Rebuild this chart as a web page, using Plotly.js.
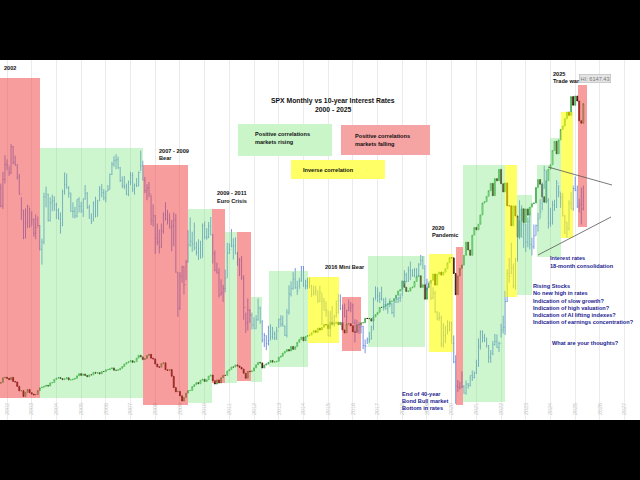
<!DOCTYPE html>
<html><head><meta charset="utf-8">
<script src="https://cdn.plot.ly/plotly-3.0.1.min.js"></script>
<style>html,body{margin:0;padding:0;background:#000}#c{width:640px;height:480px}</style>
</head><body><div id="c"></div>
<script>
// Monthly data from Aug 2001 to May 2025
const startYear = 2001, startMonth = 8;
// S&P 500 monthly closes
const spxClose = [
1134,1041,1060,1139,1148,
1130,1107,1147,1076,1067,990,912,916,815,886,936,880,
856,841,848,917,964,975,990,1008,996,1051,1058,1112,
1131,1145,1126,1107,1121,1141,1102,1104,1115,1130,1174,1212,
1181,1204,1181,1157,1192,1191,1234,1220,1229,1207,1249,1248,
1280,1281,1295,1311,1270,1270,1277,1304,1336,1378,1401,1418,
1438,1407,1421,1482,1531,1503,1455,1474,1527,1549,1481,1468,
1379,1331,1323,1386,1400,1280,1267,1283,1166,969,896,903,
826,735,798,873,919,919,987,1021,1057,1036,1096,1115,
1074,1104,1169,1187,1089,1031,1102,1049,1141,1183,1181,1258,
1286,1327,1326,1364,1345,1321,1292,1219,1131,1253,1247,1258,
1312,1366,1408,1398,1310,1362,1379,1407,1441,1412,1416,1426,
1498,1515,1569,1598,1631,1606,1686,1633,1682,1757,1806,1848,
1783,1859,1872,1884,1924,1960,1931,2003,1972,2018,2068,2059,
1995,2105,2068,2086,2107,2063,2104,1972,1920,2079,2080,2044,
1940,1932,2060,2065,2097,2099,2174,2171,2168,2126,2199,2239,
2279,2364,2363,2384,2412,2423,2470,2472,2519,2575,2648,2674,
2824,2714,2641,2648,2705,2718,2816,2902,2914,2712,2760,2507,
2704,2784,2834,2946,2752,2942,2980,2926,2977,3038,3141,3231,
3226,2954,2585,2912,3044,3100,3271,3500,3363,3270,3622,3756,
3714,3811,3973,4181,4204,4298,4395,4523,4308,4605,4567,4766,
4516,4374,4530,4132,4132,3785,4130,3955,3586,3872,4080,3840,
4077,3970,4109,4169,4180,4450,4589,4508,4288,4194,4568,4770,
4846,5096,5254,5036,5278,5460,5522,5648,5762,5705,6032,5882,
6041,5955,5612,5569,5912
];
// 10-year Treasury yield (%) monthly close / high / low
const tnxClose = [
4.84,4.59,4.23,4.75,5.05,
5.03,4.88,5.40,5.09,5.04,4.80,4.46,4.14,3.60,3.89,4.21,3.82,
3.96,3.69,3.80,3.84,3.37,3.52,4.41,4.46,3.94,4.29,4.33,4.25,
4.14,3.97,3.84,4.51,4.65,4.58,4.48,4.12,4.12,4.03,4.36,4.22,
4.13,4.37,4.48,4.20,3.98,3.92,4.28,4.02,4.33,4.56,4.49,4.39,
4.52,4.55,4.85,5.05,5.12,5.14,4.98,4.73,4.63,4.61,4.46,4.70,
4.83,4.56,4.64,4.62,4.89,5.02,4.74,4.53,4.58,4.47,3.94,4.03,
3.59,3.51,3.41,3.73,4.06,3.97,3.95,3.81,3.83,3.95,2.92,2.21,
2.84,3.02,2.67,3.12,3.46,3.53,3.48,3.40,3.31,3.39,3.20,3.84,
3.61,3.61,3.83,3.66,3.29,2.95,2.91,2.47,2.51,2.60,2.80,3.30,
3.37,3.43,3.45,3.29,3.06,3.16,2.80,2.22,1.92,2.17,2.07,1.88,
1.80,1.98,2.21,1.95,1.58,1.67,1.51,1.57,1.64,1.70,1.62,1.76,
1.99,1.89,1.85,1.67,2.13,2.49,2.60,2.78,2.61,2.55,2.75,3.03,
2.65,2.65,2.72,2.65,2.48,2.53,2.56,2.35,2.52,2.34,2.17,2.17,
1.67,2.00,1.93,2.04,2.12,2.35,2.20,2.22,2.04,2.16,2.21,2.27,
1.92,1.74,1.77,1.83,1.85,1.47,1.46,1.58,1.60,1.84,2.37,2.45,
2.45,2.39,2.39,2.28,2.20,2.30,2.29,2.12,2.33,2.38,2.41,2.41,
2.72,2.87,2.74,2.95,2.86,2.85,2.96,2.86,3.06,3.15,2.99,2.69,
2.63,2.73,2.41,2.50,2.13,2.00,2.02,1.50,1.67,1.69,1.78,1.92,
1.51,1.15,0.67,0.64,0.65,0.66,0.53,0.71,0.68,0.88,0.84,0.92,
1.07,1.46,1.74,1.63,1.58,1.47,1.24,1.31,1.49,1.55,1.43,1.51,
1.78,1.83,2.34,2.89,2.84,3.01,2.65,3.19,3.83,4.05,3.61,3.87,
3.51,3.92,3.47,3.42,3.64,3.84,3.97,4.11,4.57,4.93,4.33,3.88,
3.91,4.25,4.20,4.68,4.50,4.40,4.03,3.91,3.78,4.28,4.17,4.57,
4.54,4.21,4.25,4.17,4.40
];
const tnxHigh = [
5.12,4.87,4.67,4.90,5.23,
5.15,5.01,5.45,5.41,5.22,5.05,4.86,4.40,4.15,4.18,4.25,4.19,
4.12,3.98,4.06,4.02,3.85,3.58,4.49,4.61,4.47,4.40,4.45,4.42,
4.29,4.18,4.10,4.55,4.89,4.87,4.62,4.49,4.30,4.21,4.36,4.40,
4.31,4.37,4.64,4.50,4.25,4.08,4.32,4.41,4.35,4.62,4.66,4.56,
4.53,4.64,4.87,5.10,5.21,5.25,5.20,5.00,4.81,4.82,4.67,4.73,
4.90,4.89,4.67,4.78,4.91,5.32,5.12,4.80,4.66,4.70,4.45,4.26,
4.05,3.88,3.76,3.88,4.10,4.30,4.15,4.08,3.95,4.10,4.07,2.92,
2.92,3.05,3.04,3.16,3.75,4.00,3.72,3.90,3.52,3.57,3.54,3.88,
3.92,3.79,3.91,4.01,3.67,3.35,3.11,3.00,2.78,2.67,2.97,3.50,
3.49,3.77,3.59,3.61,3.32,3.20,3.24,2.86,2.12,2.40,2.19,2.12,
2.03,2.07,2.40,2.24,1.97,1.72,1.67,1.86,1.89,1.84,1.75,1.84,
2.00,2.07,2.06,1.87,2.19,2.66,2.74,2.92,3.00,2.75,2.81,3.04,
3.04,2.77,2.81,2.82,2.67,2.65,2.65,2.55,2.65,2.50,2.41,2.34,
2.16,2.15,2.25,2.08,2.36,2.49,2.48,2.28,2.30,2.18,2.38,2.33,
2.30,1.99,1.98,1.93,1.89,1.86,1.59,1.63,1.74,1.86,2.42,2.64,
2.62,2.53,2.63,2.40,2.42,2.31,2.40,2.31,2.34,2.47,2.43,2.50,
2.75,2.96,2.91,3.03,3.13,2.98,3.00,3.00,3.10,3.26,3.24,3.06,
2.79,2.74,2.76,2.62,2.55,2.15,2.13,2.06,1.91,1.86,1.97,1.95,
1.94,1.67,1.28,0.79,0.76,0.96,0.69,0.78,0.73,0.88,0.98,0.96,
1.19,1.61,1.77,1.77,1.70,1.63,1.48,1.38,1.56,1.70,1.69,1.55,
1.90,2.06,2.55,2.98,3.20,3.50,3.09,3.20,4.00,4.34,4.24,3.90,
3.87,4.00,4.09,3.60,3.86,3.86,4.09,4.36,4.69,5.02,4.93,4.38,
4.19,4.33,4.35,4.74,4.64,4.49,4.48,4.05,3.91,4.34,4.50,4.63,
4.81,4.63,4.37,4.59,4.63
];
const tnxLow = [
4.80,4.51,4.20,4.17,4.67,
4.93,4.82,4.86,5.05,5.02,4.75,4.45,3.95,3.57,3.59,3.79,3.80,
3.84,3.62,3.57,3.82,3.35,3.07,3.47,4.20,3.92,3.92,4.12,4.13,
3.97,3.96,3.68,3.83,4.45,4.57,4.39,4.11,3.99,3.98,4.00,4.10,
4.09,4.01,4.35,4.17,3.98,3.87,3.93,4.00,4.02,4.33,4.40,4.34,
4.30,4.52,4.55,4.84,5.00,4.95,4.96,4.70,4.58,4.56,4.44,4.42,
4.64,4.50,4.45,4.60,4.62,4.92,4.73,4.48,4.34,4.40,3.85,3.82,
3.28,3.45,3.29,3.40,3.68,3.94,3.86,3.78,3.33,3.43,2.91,2.04,
2.17,2.71,2.48,2.76,3.11,3.42,3.32,3.35,3.25,3.16,3.19,3.21,
3.57,3.56,3.59,3.65,3.09,2.94,2.89,2.42,2.46,2.33,2.52,2.81,
3.28,3.41,3.17,3.27,3.05,2.84,2.77,1.98,1.72,1.77,1.92,1.79,
1.80,1.80,1.96,1.90,1.53,1.44,1.38,1.47,1.58,1.59,1.58,1.58,
1.82,1.84,1.85,1.66,1.63,2.08,2.44,2.57,2.59,2.47,2.59,2.73,
2.63,2.58,2.59,2.60,2.43,2.46,2.46,2.31,2.33,1.87,2.16,2.04,
1.65,1.64,1.87,1.84,2.03,2.10,2.17,1.90,2.03,1.90,2.15,2.13,
1.90,1.53,1.72,1.70,1.71,1.40,1.32,1.50,1.52,1.59,1.77,2.38,
2.33,2.31,2.36,2.16,2.18,2.10,2.23,2.09,2.03,2.31,2.31,2.33,
2.44,2.68,2.72,2.73,2.76,2.83,2.82,2.81,2.85,3.06,2.99,2.69,
2.55,2.62,2.37,2.39,2.12,1.97,1.96,1.44,1.43,1.52,1.70,1.75,
1.51,1.12,0.32,0.55,0.60,0.63,0.52,0.50,0.62,0.66,0.77,0.82,
0.91,1.05,1.39,1.53,1.54,1.43,1.13,1.13,1.28,1.47,1.42,1.34,
1.63,1.71,1.68,2.33,2.71,2.88,2.60,2.57,3.13,3.57,3.61,3.40,
3.32,3.41,3.37,3.25,3.38,3.64,3.72,3.98,4.14,4.57,4.28,3.78,
3.82,3.86,4.13,4.19,4.40,4.19,4.02,3.67,3.60,3.74,4.16,4.13,
4.52,4.19,4.10,3.86,4.14
];
// x-axis tick labels (years)
const tickYears = [2002,2003,2004,2005,2006,2007,2008,2009,2010,2011,2012,2013,2014,
2015,2016,2017,2018,2019,2020,2021,2022,2023,2024,2025,2026,2027];

const dates = spxClose.map((_, i) => {
  const m = startMonth - 1 + i;
  const y = startYear + Math.floor(m / 12);
  const mm = (m % 12) + 1;
  return y + '-' + String(mm).padStart(2, '0') + '-01';
});
const spxOpen = spxClose.map((c, i) => i === 0 ? c : spxClose[i - 1]);
const spxHigh = spxClose.map((c, i) => Math.max(c, spxOpen[i]));
const spxLow = spxClose.map((c, i) => Math.min(c, spxOpen[i]));
const tnxOpen = tnxClose.map((c, i) => i === 0 ? c : tnxClose[i - 1]);

const traces = [
  {
    type: 'ohlc', x: dates, open: tnxOpen, high: tnxHigh, low: tnxLow, close: tnxClose,
    yaxis: 'y2', tickwidth: 0.3, hoverinfo: 'skip',
    increasing: {line: {color: 'rgb(80,120,220)', width: 0.8}},
    decreasing: {line: {color: 'rgb(80,120,220)', width: 0.8}}
  },
  {
    type: 'candlestick', x: dates, open: spxOpen, high: spxHigh, low: spxLow, close: spxClose,
    yaxis: 'y', whiskerwidth: 0, hoverinfo: 'skip',
    increasing: {line: {color: '#2f9e3a', width: 0.8}, fillcolor: 'rgba(255,255,255,0)'},
    decreasing: {line: {color: '#2a0800', width: 0.8}, fillcolor: '#a83214'}
  }
];

// pixel -> paper helpers (plot area: x 0..640, y 60..420)
const PX = x => x / 640;
const PY = y => (420 - y) / 360;
const RED = 'rgba(240,60,60,0.5)', GRN = 'rgba(120,230,120,0.36)', YEL = 'rgba(255,255,0,0.6)';
const zones = [
  [0, 40, 78, 398, RED], [40, 143, 148, 398, GRN], [143, 188, 165, 405, RED],
  [188, 212, 209, 403, GRN], [212, 225, 209, 383, RED], [225, 237, 232, 383, GRN],
  [237, 251, 232, 381, RED], [251, 262, 297, 382, GRN], [269, 308, 271, 367, GRN],
  [308, 339, 277, 343, YEL], [342, 361, 297, 351, RED], [368, 425, 256, 347, GRN],
  [429, 453, 254, 352, YEL], [456, 463, 247, 405, RED], [463, 505, 165, 402, GRN],
  [505, 517, 165, 297, YEL], [517, 532, 195, 295, GRN], [537, 550, 165, 257, GRN],
  [550, 561, 138, 257, GRN], [561, 573, 112, 238, YEL], [578, 587, 85, 227, RED]
];
const shapes = zones.map(z => ({
  type: 'rect', xref: 'paper', yref: 'paper', layer: 'above',
  x0: PX(z[0]), x1: PX(z[1]), y0: PY(z[3]), y1: PY(z[2]),
  fillcolor: z[4], line: {width: 0}
}));
// legend boxes
[[238, 332, 124, 156, '#c9f5c9'], [341, 430, 125, 155, '#f5a3a3'], [291, 385, 160, 179, '#ffff66']]
  .forEach(b => shapes.push({type: 'rect', xref: 'paper', yref: 'paper', layer: 'above',
    x0: PX(b[0]), x1: PX(b[1]), y0: PY(b[3]), y1: PY(b[2]), fillcolor: b[4], line: {width: 0}}));
// consolidation triangle
[[548, 167, 612, 185], [538, 255, 611, 217]].forEach(l => shapes.push({
  type: 'line', xref: 'paper', yref: 'paper', layer: 'above',
  x0: PX(l[0]), y0: PY(l[1]), x1: PX(l[2]), y1: PY(l[3]), line: {color: '#555', width: 0.8}}));

const FONT = 'Liberation Sans, Arial, sans-serif';
const NAVY = '#1c1c90';
function txt(x, y, t, color, size, anchor) {
  return {xref: 'paper', yref: 'paper', x: PX(x), y: PY(y), text: '<b>' + t + '</b>',
    showarrow: false, xanchor: anchor || 'left', yanchor: 'middle',
    font: {family: FONT, size: size || 5.6, color: color || '#111'}};
}
const ann = [
  txt(2, 68, '2002'),
  txt(157, 151, '2007 - 2009'), txt(157, 158, 'Bear'),
  txt(215, 193, '2009 - 2011'), txt(215, 201, 'Euro Crisis'),
  txt(333, 101, 'SPX Monthly vs 10-year Interest Rates', '#111', 6.8, 'center'),
  txt(333, 110, '2000 - 2025', '#111', 6.8, 'center'),
  txt(253, 134, 'Positive correlations'), txt(253, 142, 'markets rising'),
  txt(353, 136, 'Positive correlations'), txt(353, 144, 'markets falling'),
  txt(301, 170, 'Inverse correlation'),
  txt(323, 267, '2016 Mini Bear'),
  txt(430, 228, '2020'), txt(430, 235, 'Pandemic'),
  txt(551, 74, '2025'), txt(551, 81, 'Trade war'),
  txt(400, 394, 'End of 40-year', NAVY), txt(400, 401, 'Bond Bull market', NAVY),
  txt(400, 408, 'Bottom in rates', NAVY),
  txt(548, 258, 'Interest rates', NAVY), txt(548, 266, '18-month consolidation', NAVY),
  txt(531, 286, 'Rising Stocks', NAVY), txt(531, 293, 'No new high in rates', NAVY),
  txt(531, 301, 'Indication of slow growth?', NAVY), txt(531, 308, 'Indication of high valuation?', NAVY),
  txt(531, 315, 'Indication of AI lifting indexes?', NAVY),
  txt(531, 322, 'Indication of earnings concentration?', NAVY),
  txt(550, 343, 'What are your thoughts?', NAVY),
  {xref: 'paper', yref: 'paper', x: PX(595), y: PY(78), text: 'HI: 6147.43', showarrow: false,
   xanchor: 'center', yanchor: 'middle', bgcolor: '#e4e4e4', bordercolor: '#b8b8b8', borderwidth: 0.6,
   borderpad: 1, font: {family: FONT, size: 5.6, color: '#777'}}
];

const layout = {
  width: 640, height: 480, margin: {l: 0, r: 0, t: 60, b: 60},
  paper_bgcolor: '#000', plot_bgcolor: '#fff', showlegend: false,
  xaxis: {
    type: 'date', range: ['2001-09-19', '2027-08-17'],
    tickvals: tickYears.map(y => y + '-01-01'), ticktext: tickYears.map(String),
    tickangle: -90, ticklabelposition: 'inside', ticks: '',
    tickfont: {family: FONT, size: 5.5, color: '#c4c4c4'},
    showgrid: true, gridcolor: '#e6e6e6', gridwidth: 0.8, zeroline: false, showline: false,
    rangeslider: {visible: false}, fixedrange: true
  },
  yaxis: {range: [405, 6669], visible: false, showgrid: false, fixedrange: true},
  yaxis2: {range: [0, 7.11], overlaying: 'y', visible: false, showgrid: false, fixedrange: true},
  shapes: shapes, annotations: ann
};
Plotly.newPlot('c', traces, layout, {displayModeBar: false, staticPlot: true});
</script></body></html>
